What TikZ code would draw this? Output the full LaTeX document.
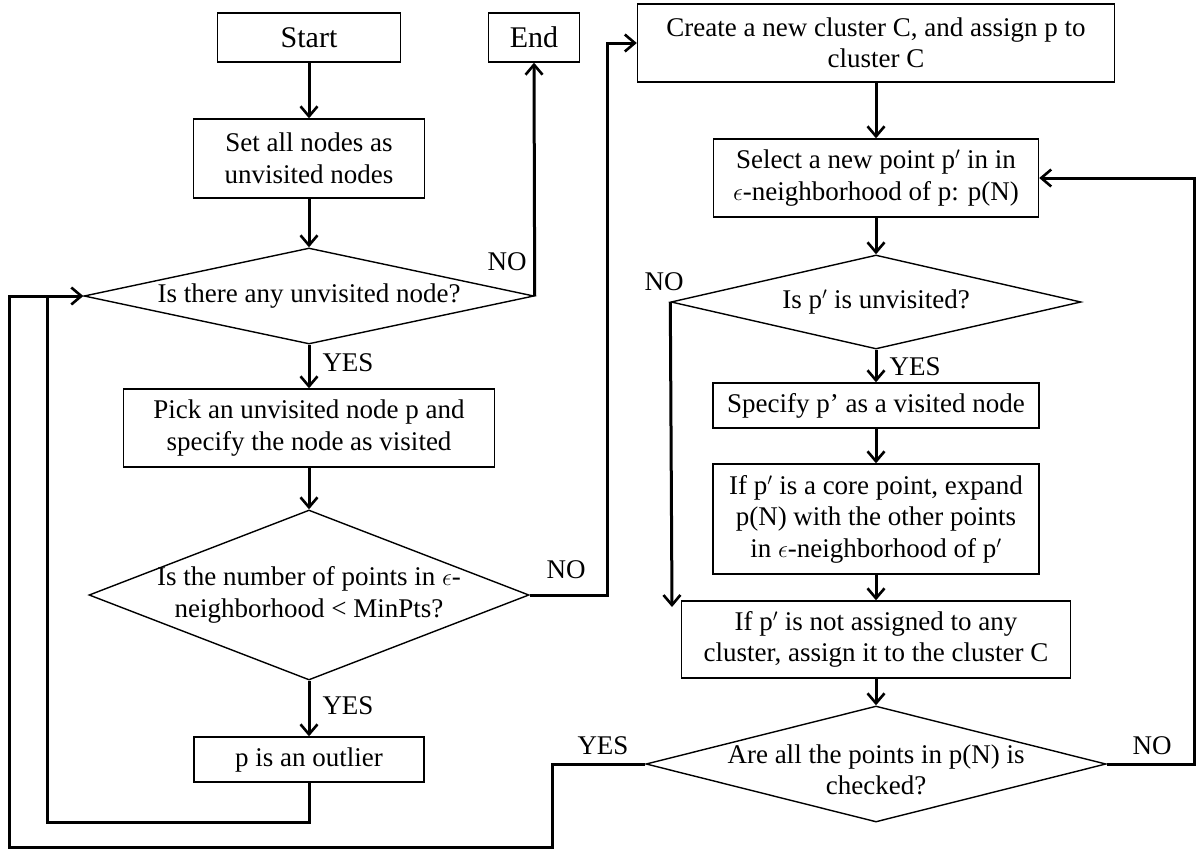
\documentclass[tikz,border=0pt]{standalone}
\usepackage{fontspec}
\setmainfont{Liberation Serif}
\usetikzlibrary{shapes.geometric,arrows.meta}
\begin{document}
\begin{tikzpicture}[x=1pt,y=-1pt,
  every node/.style={font=\fontsize{27}{31.5}\selectfont},
  box/.style={draw, line width=1.4pt, inner sep=0pt, align=center},
  bigbox/.style={box, font=\fontsize{30}{36}\selectfont},
  decision/.style={draw, diamond, line width=1.4pt, inner sep=0pt},
  conn/.style={line width=3pt},
  arr/.style={conn, -{Straight Barb[length=10pt,width=17pt,line width=2.6pt]}},
  lab/.style={inner sep=0pt, align=center}]
\useasboundingbox (0,0) rectangle (1204,852);

% left column
\node[bigbox, minimum width=183pt, minimum height=49pt] (start) at (309,37.5) {Start};
\node[bigbox, minimum width=91pt, minimum height=49pt] (end) at (534,37.5) {End};
\node[box, minimum width=231pt, minimum height=79pt] (set) at (309,158.5) {Set all nodes as\\unvisited nodes};
\node[decision, minimum width=450pt, minimum height=96pt,
  label={[lab]center:Is there any unvisited node?}] (d1) at (309,296) {};
\node[box, minimum width=371pt, minimum height=78pt] (pick) at (309,428) {Pick an unvisited node p and\\specify the node as visited};
\node[decision, minimum width=440pt, minimum height=170pt,
  label={[lab]center:Is the number of points in $\epsilon$-\\neighborhood < MinPts?}] (d2) at (309,595) {};
\node[box, minimum width=230pt, minimum height=45pt] (outlier) at (309,759.5) {p is an outlier};

% right column
\node[box, minimum width=477pt, minimum height=78pt] (create) at (876,43) {Create a new cluster C, and assign p to\\cluster C};
\node[box, minimum width=325pt, minimum height=78pt] (select) at (876,178) {Select a new point p$'$ in in\\$\epsilon$-neighborhood of p: p(N)};
\node[decision, minimum width=410pt, minimum height=94pt,
  label={[lab]center:Is p$'$ is unvisited?}] (d3) at (876,302) {};
\node[box, minimum width=326pt, minimum height=45pt] (specify) at (876,405.5) {Specify p’ as a visited node};
\node[box, minimum width=326pt, minimum height=110pt] (core) at (876,519) {If p$'$ is a core point, expand\\p(N) with the other points\\in $\epsilon$-neighborhood of p$'$};
\node[box, minimum width=389pt, minimum height=77pt] (assign) at (876,639.5) {If p$'$ is not assigned to any\\cluster, assign it to the cluster C};
\node[decision, minimum width=460pt, minimum height=116pt,
  label={[lab,yshift=-6pt]center:Are all the points in p(N) is\\checked?}] (d4) at (876,764) {};

% corner coordinates
\coordinate (k1) at (607,595);
\coordinate (k2) at (47,822);
\coordinate (k3) at (9,847);
\coordinate (k4) at (552,847);
\coordinate (k6) at (672,607);
\coordinate (k7) at (1194,764);

% connectors
\draw[arr] (start) -- (set);
\draw[arr] (set) -- (d1);
\draw[arr] (d1.east) -- (end.south);
\draw[arr] (d1.south) -- (pick.north);
\draw[arr] (pick) -- (d2);
\draw[arr] (d2.east) -- (k1) |- (create.west);
\draw[arr] (d2.south) -- (outlier.north);
\draw[conn] (outlier.south) |- (k2) -- (k2 |- d1.west);
\draw[arr] (d4.west) -| (k4) -- (k3) |- (d1.west);

\draw[arr] (create) -- (select);
\draw[arr] (select) -- (d3);
\draw[arr] (d3.west) -- (k6);
\draw[arr] (d3.south) -- (specify.north);
\draw[arr] (specify) -- (core);
\draw[arr] (core) -- (assign);
\draw[arr] (assign) -- (d4);
\draw[arr] (d4.east) -- (k7) |- (select.east);

% labels
\node[lab] (l1) at (507,262) {NO};
\node[lab] (l2) at (348,363) {YES};
\node[lab] (l3) at (566,570) {NO};
\node[lab] (l4) at (348,706) {YES};
\node[lab] (l5) at (664,282) {NO};
\node[lab] (l6) at (915,367) {YES};
\node[lab] (l7) at (603,746) {YES};
\node[lab] (l8) at (1152,746) {NO};
\end{tikzpicture}
\end{document}
